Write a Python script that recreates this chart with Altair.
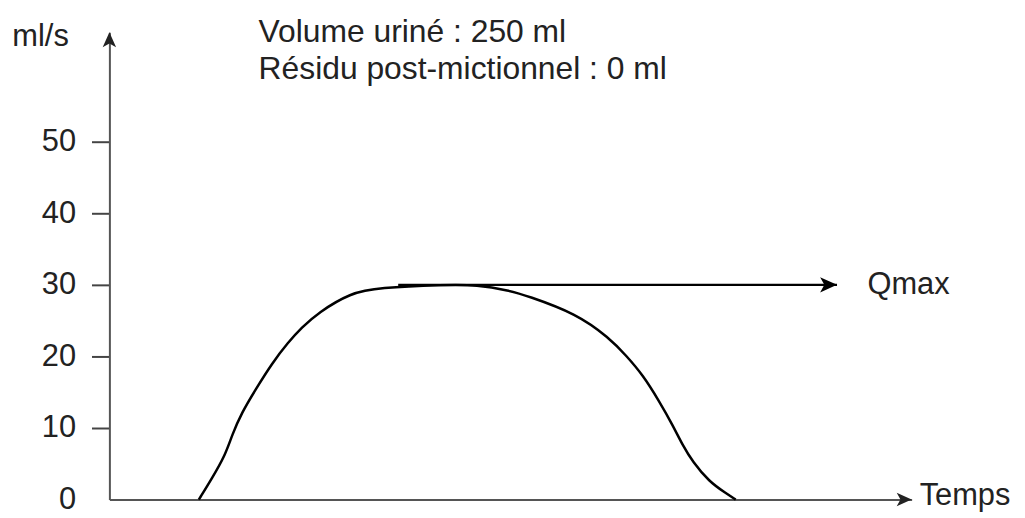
import altair as alt
import pandas as pd

# ---- data ----
time_pts = [11.15, 12.8, 14.46, 15.28, 16.52, 18.18, 20.24, 22.3, 23.95, 26.0,
            30.1, 33.5, 41.8, 45.8, 49.9, 52.0, 58.2, 62.3, 64.44, 66.51,
            68.56, 70.22, 71.46, 72.7, 74.76, 76.83, 78.07]
flow_pts = [0.0, 3.0, 6.25, 9.0, 12.2, 15.3, 19.0, 22.0, 24.0, 26.1,
            28.9, 29.6, 30.0, 30.0, 29.2, 28.5, 26.0, 22.6, 20.1, 17.4,
            13.7, 10.4, 7.6, 5.3, 2.5, 0.9, 0.0]
y_tick_values = [0, 10, 20, 30, 40, 50]
qmax_value = 30
qmax_from = 36.0
qmax_to = 90.7
info_lines = ["Volume uriné : 250 ml", "Résidu post-mictionnel : 0 ml"]
info_x = [18.6, 18.6]
info_y = [64.0, 58.7]
y_unit = "ml/s"
x_label = "Temps"
qmax_label = "Qmax"

X_MAX = 100
Y_MAX = 65.28
FONT = "Liberation Sans"
INK = "#222222"

curve_df = pd.DataFrame({"t": time_pts, "q": flow_pts})
qmax_df = pd.DataFrame({"x0": [qmax_from], "x1": [qmax_to], "y": [qmax_value]})
info_df = pd.DataFrame({"x": info_x, "y": info_y, "txt": info_lines})
unit_df = pd.DataFrame({"x": [-12.1], "y": [63.4], "txt": [y_unit]})
side_df = pd.DataFrame({"x": [94.5, 101.0], "y": [30.0, 0.5], "txt": [qmax_label, x_label]})
xhead_df = pd.DataFrame({"x": [X_MAX], "y": [0]})
yhead_df = pd.DataFrame({"x": [0], "y": [Y_MAX]})

xs = alt.Scale(domain=[0, X_MAX], nice=False, zero=False)
ys = alt.Scale(domain=[0, Y_MAX], nice=False, zero=False)

x_axis = alt.Axis(domain=True, domainColor="#555555", domainWidth=2,
                  ticks=False, labels=False, grid=False, title=None)
y_axis = alt.Axis(domain=True, domainColor="#555555", domainWidth=2,
                  values=y_tick_values, ticks=True, tickSize=18, tickWidth=2,
                  tickColor="#444444",
                  tickOpacity={"condition": {"test": "datum.value === 0", "value": 0}, "value": 1},
                  labels=True, labelFont=FONT, labelFontSize=31, labelColor=INK,
                  labelPadding=16, labelBaseline="middle", grid=False, title=None)


def X(field):
    return alt.X(field, scale=xs, title=None)


def Y(field):
    return alt.Y(field, scale=ys, title=None)


curve = alt.Chart(curve_df).mark_line(
    color="black", strokeWidth=2.5, interpolate="basis"
).encode(
    x=alt.X("t:Q", scale=xs, axis=x_axis),
    y=alt.Y("q:Q", scale=ys, axis=y_axis),
)

qmax_line = alt.Chart(qmax_df).mark_rule(color="black", strokeWidth=2.5).encode(
    x=X("x0:Q"), x2="x1:Q", y=Y("y:Q"),
)

right_head = "M-2,-0.9L0,0L-2,0.9L-1.5,0Z"
up_head = "M-0.9,2L0,0L0.9,2L0,1.5Z"

qmax_head = alt.Chart(qmax_df).mark_point(
    shape=right_head, filled=True, color="black", size=289, opacity=1
).encode(x=X("x1:Q"), y=Y("y:Q"))

x_head = alt.Chart(xhead_df).mark_point(
    shape=right_head, filled=True, color=INK, size=225, opacity=1
).encode(x=X("x:Q"), y=Y("y:Q"))

y_head = alt.Chart(yhead_df).mark_point(
    shape=up_head, filled=True, color=INK, size=225, opacity=1
).encode(x=X("x:Q"), y=Y("y:Q"))

info_text = alt.Chart(info_df).mark_text(
    align="left", baseline="alphabetic", font=FONT, fontSize=32, color=INK
).encode(x=X("x:Q"), y=Y("y:Q"), text="txt:N")

unit_text = alt.Chart(unit_df).mark_text(
    align="left", baseline="alphabetic", font=FONT, fontSize=31, color=INK
).encode(x=X("x:Q"), y=Y("y:Q"), text="txt:N")

side_text = alt.Chart(side_df).mark_text(
    align="left", baseline="middle", font=FONT, fontSize=31, color=INK
).encode(x=X("x:Q"), y=Y("y:Q"), text="txt:N")

chart = alt.layer(
    curve, qmax_line, qmax_head, x_head, y_head, info_text, unit_text, side_text
).properties(
    width=807, height=470,
    autosize=alt.AutoSizeParams(type="none"),
    padding={"left": 102, "top": 23, "right": 106, "bottom": 14},
    background="white",
).configure_view(stroke=None)

chart.save("out.html", embed_options={"renderer": "svg", "actions": False})
